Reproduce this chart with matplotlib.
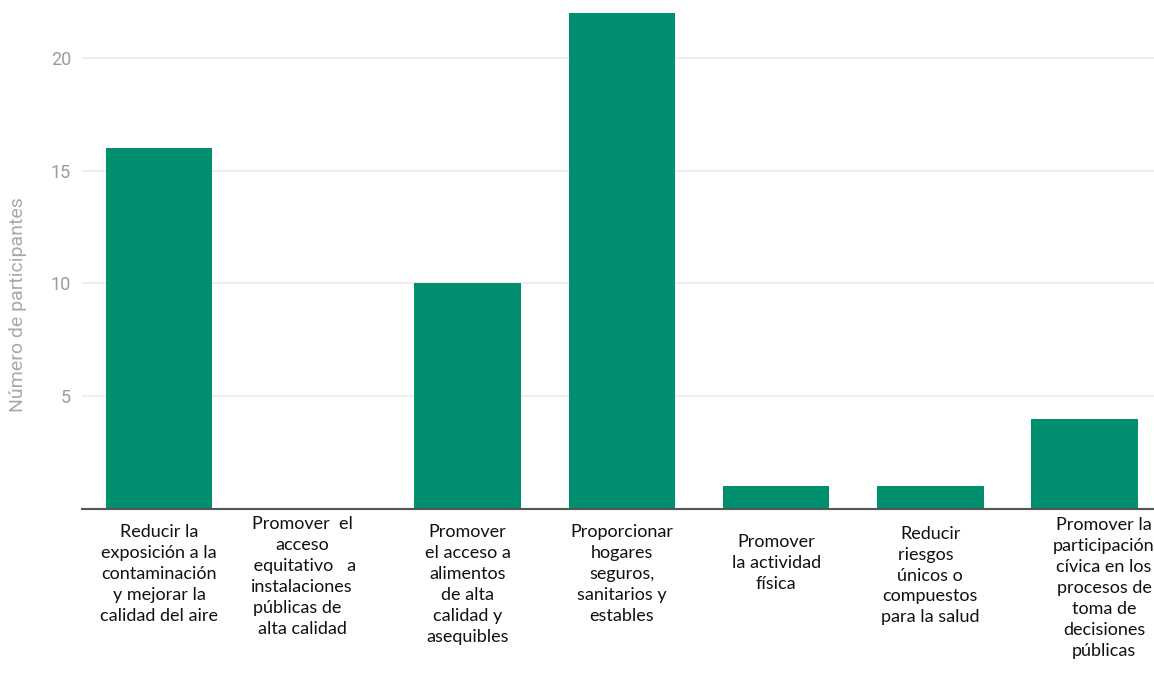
import matplotlib.pyplot as plt

# data
categorias = [
    "Reducir la\nexposición a la\ncontaminación\ny mejorar la\ncalidad del aire",
    "Promover  el\nacceso\n equitativo   a\ninstalaciones\npúblicas de  \nalta calidad",
    "Promover\nel acceso a\nalimentos\nde alta\ncalidad y\nasequibles",
    "Proporcionar\nhogares\nseguros,\nsanitarios y\nestables",
    "Promover\nla actividad\nfísica",
    "Reducir\nriesgos  \núnicos o\ncompuestos\npara la salud",
    "Promover la\nparticipación\ncívica en los\nprocesos de\ntoma de\ndecisiones\npúblicas",
]
participantes = [16, 0, 10, 22, 1, 1, 4]
ticks_y = [5, 10, 15, 20]

# label placement tweaks (points), to follow the reference
label_dx = [0, -8, 0, 0, 0, 0, 14]
label_dy = [-11, -5, -11, -11, -18, -12, -6]

fig = plt.figure(figsize=(11.54, 6.77), dpi=100)
ax = fig.add_axes([82 / 1154, 168 / 677, 1 - 82 / 1154, 504 / 677])

ax.bar(range(len(participantes)), participantes, width=0.69, color='#008f6f', zorder=3)

ax.set_xlim(-0.5, 6.45)
ax.set_ylim(0, 22.35)
ax.set_yticks(ticks_y)
ax.set_xticks([])
ax.grid(axis='y', color='#ebebeb', linewidth=1.2, zorder=0)
for s in ['top', 'right', 'left']:
    ax.spines[s].set_visible(False)
ax.spines['bottom'].set_color('#555555')
ax.spines['bottom'].set_linewidth(1.5)
ax.spines['bottom'].set_zorder(4)
ax.tick_params(axis='y', length=0, pad=8, labelsize=13, labelcolor='#9b9b9b')
for t in ax.get_yticklabels():
    t.set_family('Roboto')

ax.set_ylabel('Número de participantes', fontsize=14, color='#a8a8a8',
              family='Roboto', labelpad=12)
ax.yaxis.set_label_coords(-0.051, 0.405)

for i, txt in enumerate(categorias):
    ax.annotate(txt, xy=(i, 0), xycoords=('data', 'axes fraction'),
                xytext=(label_dx[i], label_dy[i]), textcoords='offset points',
                ha='center', va='top', fontsize=13, family='Lato',
                color='#111111', linespacing=1.38, annotation_clip=False)

fig.savefig('out.png', dpi=100)
